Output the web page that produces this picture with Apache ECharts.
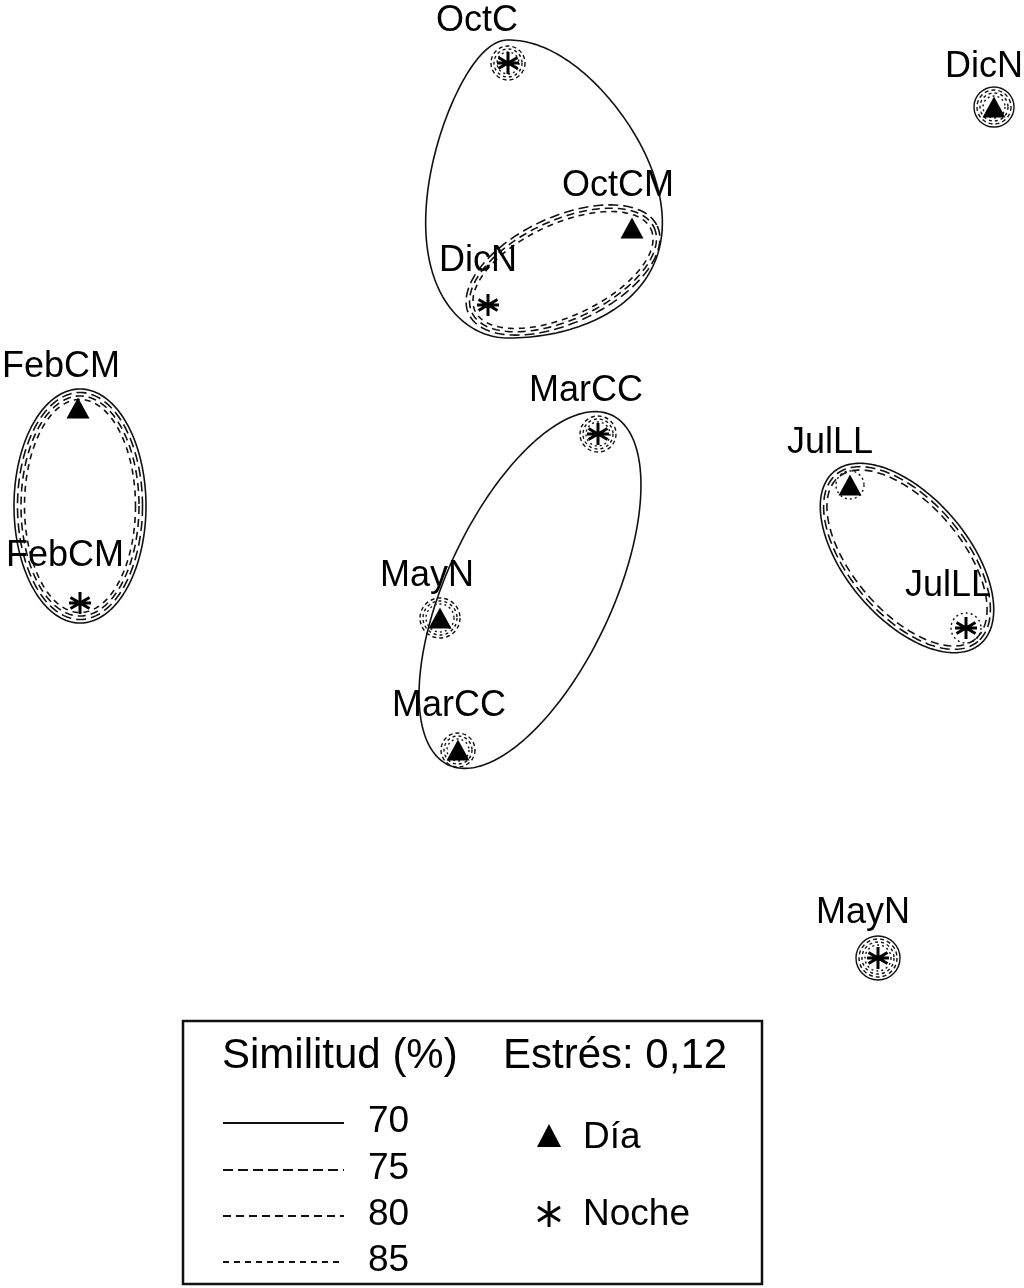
<!DOCTYPE html>
<html><head><meta charset="utf-8">
<script src="https://cdn.jsdelivr.net/npm/echarts@6/dist/echarts.min.js"></script>
<style>html,body{margin:0;padding:0;background:#fff}#c{width:1024px;height:1288px}</style>
</head><body><div id="c"></div>
<script>
// ---- MDS ordination (plot units) ----
const diaNames   = ['DicN', 'OctCM', 'FebCM', 'JulLL', 'MayN', 'MarCC'];
const diaX       = [994, 632, 78, 850, 440, 458];
const diaY       = [107, 228, 408, 485, 618, 750];
const nocheNames = ['OctC', 'DicN', 'FebCM', 'MarCC', 'JulLL', 'MayN'];
const nocheX     = [508, 488, 80, 598, 966, 878];
const nocheY     = [63, 305, 603, 434, 628, 958];

// similarity levels (%)
const levels = [70, 75, 80, 85];

// similarity contours around groups of samples
const groupCx     = [508, 563, 80, 530, 907];
const groupCy     = [189, 270, 506, 590, 558];
const groupAR     = [150, 104, 66, 193, 113];
const groupAL     = [80, 104, 66, 193, 113];
const groupB      = [149, 53, 117, 83, 61];
const groupK      = [0.25, 0, 0, 0, 0];
const groupAngle  = [0, -25, 0, -65, 49.6];
const groupLevels = [[70], [75, 80, 85], [70, 75, 80, 85], [70], [70, 75, 80]];

// contours around single samples: first level and outer radius
const diaRingFrom   = [70, null, null, 85, 75, 75];
const diaRingR      = [20, 0, 0, 14, 20, 17];
const nocheRingFrom = [75, null, null, 75, 85, 70];
const nocheRingR    = [17, 0, 0, 18, 15, 22];

const stress = '0,12';

// ---- styles / layout ----
const FONT = 'Liberation Sans, Arial, Helvetica, sans-serif';
const dashFor = {70: null, 75: [10, 5], 80: [8, 5], 85: [6, 5]};
const ringDash = {70: null, 75: [4, 3], 80: [3, 3], 85: [2, 3]};
const diaLabelOff   = [[-10, -40], [-14, -42], [-17, -41], [-20, -42], [-13, -42], [-9, -44]];
const nocheLabelOff = [[-31, -42], [-10, -44], [-15, -47], [-12, -43], [-18, -42], [-15, -45]];
const STEP = 3.5;
const asteriskPath = 'path://M0,-10L0,10M-8.66,-5L8.66,5M-8.66,5L8.66,-5M-10,0L10,0';

const contourItems = [];
groupLevels.forEach((lv, g) => lv.forEach((L, i) => contourItems.push([groupCx[g], groupCy[g], g, i, L])));

const ringItems = [];
diaX.forEach((x, i) => { if (diaRingFrom[i] !== null) ringItems.push([x, diaY[i], diaRingR[i], diaRingFrom[i]]); });
nocheX.forEach((x, i) => { if (nocheRingFrom[i] !== null) ringItems.push([x, nocheY[i], nocheRingR[i], nocheRingFrom[i]]); });

function contourRender(params, api) {
  const it = contourItems[params.dataIndex];
  const g = it[2], inset = it[3] * STEP, L = it[4];
  const th = groupAngle[g] * Math.PI / 180, c = Math.cos(th), s = Math.sin(th);
  const pts = [];
  for (let i = 0; i < 240; i++) {
    const t = i / 240 * 2 * Math.PI, ct = Math.cos(t), st = Math.sin(t);
    const a = (ct >= 0 ? groupAR[g] : groupAL[g]) - inset;
    const u = a * ct * (1 + groupK[g] * st), v = (groupB[g] - inset) * st;
    pts.push(api.coord([groupCx[g] + u * c - v * s, groupCy[g] + u * s + v * c]));
  }
  return {type: 'polygon', shape: {points: pts},
    style: {fill: 'none', stroke: '#111', lineWidth: 1.6, lineDash: dashFor[L]}};
}

function ringRender(params, api) {
  const it = ringItems[params.dataIndex];
  const p = api.coord([it[0], it[1]]);
  const children = [];
  levels.filter(L => L >= it[3]).forEach((L, i) => {
    const r = api.size([it[2] - i * 3, 0])[0];
    children.push({type: 'circle', shape: {cx: p[0], cy: p[1], r: r},
      style: {fill: 'none', stroke: '#111', lineWidth: 1.4, lineDash: ringDash[L]}});
  });
  return {type: 'group', children};
}

const legendLineY = [1123, 1170, 1216, 1262];
const legendGraphic = [
  {type: 'rect', shape: {x: 183, y: 1021, width: 579, height: 263}, style: {fill: '#fff', stroke: '#111', lineWidth: 2.5}, z: 10},
  {type: 'text', x: 222, y: 1056, style: {text: 'Similitud (%)', font: '42px ' + FONT, fill: '#000', verticalAlign: 'middle'}, z: 11},
  {type: 'text', x: 503, y: 1056, style: {text: 'Estrés: ' + stress, font: '42px ' + FONT, fill: '#000', verticalAlign: 'middle'}, z: 11},
  {type: 'polygon', shape: {points: [[549, 1124], [561, 1147], [537, 1147]]}, style: {fill: '#000'}, z: 11},
  {type: 'text', x: 583, y: 1138, style: {text: 'Día', font: '37px ' + FONT, fill: '#000', verticalAlign: 'middle'}, z: 11},
  {type: 'line', shape: {x1: 549, y1: 1201, x2: 549, y2: 1227}, style: {stroke: '#000', lineWidth: 3}, z: 11},
  {type: 'line', shape: {x1: 538, y1: 1207, x2: 560, y2: 1221}, style: {stroke: '#000', lineWidth: 3}, z: 11},
  {type: 'line', shape: {x1: 538, y1: 1221, x2: 560, y2: 1207}, style: {stroke: '#000', lineWidth: 3}, z: 11},
  {type: 'text', x: 583, y: 1215, style: {text: 'Noche', font: '37px ' + FONT, fill: '#000', verticalAlign: 'middle'}, z: 11}
];
levels.forEach((L, i) => {
  legendGraphic.push({type: 'line', shape: {x1: 223, y1: legendLineY[i], x2: 344, y2: legendLineY[i]},
    style: {stroke: '#111', lineWidth: 2, lineDash: dashFor[L]}, z: 11});
  legendGraphic.push({type: 'text', x: 368, y: legendLineY[i] - 1,
    style: {text: String(L), font: '37px ' + FONT, fill: '#000', verticalAlign: 'middle'}, z: 11});
});

const labelStyle = {show: true, position: 'inside', formatter: '{b}', color: '#000', fontSize: 36, fontFamily: FONT};

const chart = echarts.init(document.getElementById('c'));
chart.setOption({
  backgroundColor: '#fff',
  animation: false,
  grid: {left: 0, right: 0, top: 0, bottom: 0},
  xAxis: {type: 'value', min: 0, max: 1024, show: false},
  yAxis: {type: 'value', min: 0, max: 1288, inverse: true, show: false},
  graphic: legendGraphic,
  series: [
    {type: 'custom', name: 'contours', data: contourItems, renderItem: contourRender, encode: {x: 0, y: 1}, silent: true, z: 1},
    {type: 'custom', name: 'rings', data: ringItems, renderItem: ringRender, encode: {x: 0, y: 1}, silent: true, z: 2},
    {type: 'scatter', name: 'Día', symbol: 'triangle', symbolSize: [23, 21], z: 3,
      itemStyle: {color: '#000', opacity: 1},
      label: labelStyle,
      data: diaNames.map((n, i) => ({name: n, value: [diaX[i], diaY[i]], label: {offset: diaLabelOff[i]}}))},
    {type: 'scatter', name: 'Noche', symbol: asteriskPath, symbolSize: [22, 22], z: 3,
      itemStyle: {color: 'none', borderColor: '#000', borderWidth: 3, opacity: 1},
      label: labelStyle,
      data: nocheNames.map((n, i) => ({name: n, value: [nocheX[i], nocheY[i]], label: {offset: nocheLabelOff[i]}}))}
  ]
});
</script></body></html>
